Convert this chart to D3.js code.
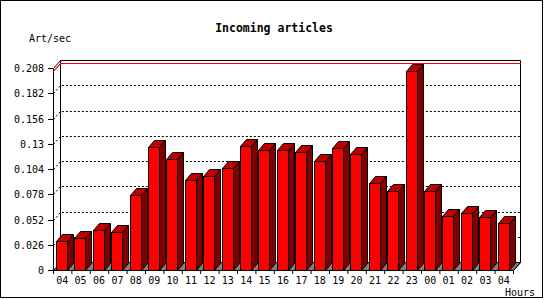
<!DOCTYPE html>
<html lang="en">
<head>
<meta charset="UTF-8">
<title>Incoming articles</title>
<script src="https://d3js.org/d3.v7.min.js"></script>
<style>
    body { margin: 0; background: #fff; }
    text { font-family: "DejaVu Sans Mono", monospace; fill: #000; }
    .tick line { stroke: #000; }
</style>
</head>
<body>
<div id="chart"></div>
<script>
    // hours of the day (last 25 hours)
    const hours = ["04", "05", "06", "07", "08", "09", "10", "11", "12", "13", "14", "15",
                   "16", "17", "18", "19", "20", "21", "22", "23", "00", "01", "02", "03", "04"];
    // articles per second
    const artPerSec = [0.030, 0.033, 0.041, 0.039, 0.077, 0.127, 0.114, 0.093, 0.097, 0.105,
                       0.128, 0.124, 0.124, 0.121, 0.112, 0.126, 0.119, 0.090, 0.081, 0.205,
                       0.081, 0.056, 0.059, 0.055, 0.048];
    const yTicks = [0, 0.026, 0.052, 0.078, 0.104, 0.13, 0.156, 0.182, 0.208];

    const W = 550, H = 300;
    const DX = 7, DY = 8;      // depth of the 3d plane
    const BDX = 6, BDY = 7;    // depth of the bars

    const svg = d3.select("#chart").append("svg")
        .attr("width", W)
        .attr("height", H);

    // outer frame
    svg.append("rect")
        .attr("x", 0.5).attr("y", 0.5)
        .attr("width", 542).attr("height", 297)
        .attr("fill", "#fff").attr("stroke", "#000");

    const x = d3.scaleBand()
        .domain(d3.range(hours.length))
        .range([53, 513]);
    const xEdge = d3.scaleLinear()
        .domain([0, hours.length])
        .range([53, 513]);
    const y = d3.scaleLinear()
        .domain([0, 0.208])
        .rangeRound([270, 68]);

    const x0 = 53, x1 = 513, y0 = y(0), yTop = y(0.208);
    const line = d3.line();

    // back plane
    svg.append("path")
        .attr("d", line([[x0 + DX + .5, y0 - DY + .5], [x0 + DX + .5, yTop - DY + .5],
                         [x1 + DX + .5, yTop - DY + .5], [x1 + DX + .5, y0 - DY + .5]]))
        .attr("fill", "none").attr("stroke", "#000");

    // dotted grid lines
    svg.append("g").selectAll("path")
        .data(yTicks.filter(d => d > 0 && d < 0.208))
        .join("path")
        .attr("d", d => line([[x0 + .5, y(d) + .5], [x0 + DX + .5, y(d) - DY + .5], [x1 + DX + .5, y(d) - DY + .5]]))
        .attr("fill", "none")
        .attr("stroke", "#000")
        .attr("stroke-dasharray", "2,2");

    // floor
    svg.append("path")
        .attr("d", line([[x0 + .5, y0 + .5], [x0 + DX + .5, y0 - DY + .5], [x1 + DX + .5, y0 - DY + .5], [x1 + .5, y0 + .5]]) + "Z")
        .attr("fill", "#808080").attr("stroke", "#000");

    // max line
    const yMax = y(d3.max(artPerSec));
    svg.append("path")
        .attr("d", line([[x0 + .5, yMax + .5], [x0 + DX + .5, yMax - DY + .5], [x1 + DX + .5, yMax - DY + .5]]))
        .attr("fill", "none").attr("stroke", "#ff0000");

    // bars
    const bars = svg.append("g").selectAll("g")
        .data(artPerSec)
        .join("g");
    const fw = 11;
    bars.each(function (v, i) {
        const g = d3.select(this);
        const xf = Math.round(x(i) + 3) + .5;
        const yt = y(v) + .5, yb = y0 + .5;
        g.append("path")
            .attr("d", line([[xf + fw, yt], [xf + fw + BDX, yt - BDY], [xf + fw + BDX, yb - BDY], [xf + fw, yb]]) + "Z")
            .attr("fill", "#800000").attr("stroke", "#000");
        g.append("path")
            .attr("d", line([[xf, yt], [xf + BDX, yt - BDY], [xf + fw + BDX, yt - BDY], [xf + fw, yt]]) + "Z")
            .attr("fill", "#c00000").attr("stroke", "#000");
        g.append("rect")
            .attr("x", xf).attr("y", yt)
            .attr("width", fw).attr("height", yb - yt)
            .attr("fill", "#ff0000").attr("stroke", "#000");
    });

    // front axis lines
    svg.append("path")
        .attr("d", line([[x0 + DX + .5, yTop - DY + .5], [x0 + .5, yTop + .5], [x0 + .5, y0 + .5], [x1 + .5, y0 + .5], [x1 + DX + .5, y0 - DY + .5]]))
        .attr("fill", "none").attr("stroke", "#000");
    svg.append("path")
        .attr("d", line([[x0 + .5, yMax + .5], [x0 + DX + .5, yMax - DY + .5]]))
        .attr("stroke", "#ff0000");

    // y axis
    const yAxis = svg.append("g")
        .attr("transform", `translate(${x0},0)`)
        .call(d3.axisLeft(y).tickValues(yTicks).tickSize(5).tickPadding(4).tickFormat(d => d));
    yAxis.select(".domain").remove();
    yAxis.selectAll("text").style("font-size", "10px");

    // x axis: ticks at hour boundaries, labels in the middle
    const xTicks = svg.append("g")
        .attr("transform", `translate(0,${y0})`)
        .call(d3.axisBottom(xEdge).tickValues(d3.range(hours.length + 1)).tickSize(4).tickFormat(""));
    xTicks.select(".domain").remove();

    const xAxis = svg.append("g")
        .attr("transform", `translate(0,${y0})`)
        .call(d3.axisBottom(x).tickSize(0).tickPadding(7).tickFormat(i => hours[i]));
    xAxis.select(".domain").remove();
    xAxis.selectAll("text").style("font-size", "10px");

    // titles
    svg.append("text")
        .attr("x", 274).attr("y", 32)
        .attr("text-anchor", "middle")
        .style("font-size", "11.5px")
        .style("font-weight", "bold")
        .text("Incoming articles");
    svg.append("text")
        .attr("x", 29).attr("y", 42)
        .style("font-size", "10px")
        .text("Art/sec");
    svg.append("text")
        .attr("x", 535).attr("y", 296)
        .attr("text-anchor", "end")
        .style("font-size", "10px")
        .text("Hours");
</script>
</body>
</html>
